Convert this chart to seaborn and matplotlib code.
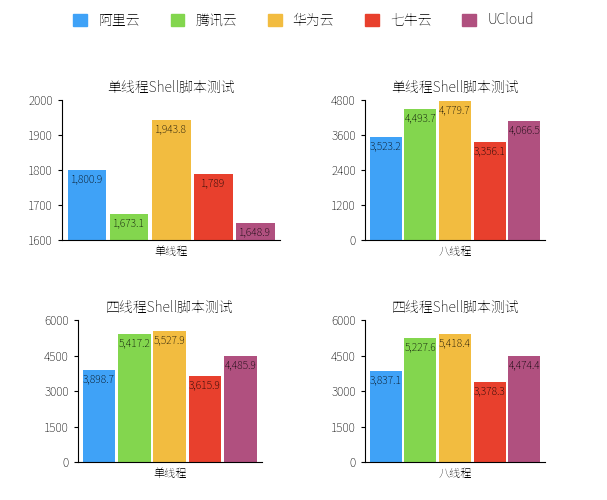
import matplotlib
matplotlib.use('Agg')
import matplotlib.pyplot as plt
from matplotlib import font_manager as fm
import seaborn as sns
import pandas as pd
from matplotlib.patches import Patch

# Register a CJK font file explicitly in case the name lookup fails
cjk_name = None
for path in fm.findSystemFonts():
    if 'NotoSansCJK' in path.replace(' ', '') or 'NotoSansSC' in path or 'wqy' in path.lower():
        try:
            fm.fontManager.addfont(path)
            name = fm.FontProperties(fname=path).get_name()
            if cjk_name is None or 'SC' in name:
                cjk_name = name
        except Exception:
            pass
plt.rcParams['font.family'] = [cjk_name or 'Noto Sans CJK SC', 'DejaVu Sans']

# ─── Data ────────────────────────────────────────────────────────────────────
providers = ['阿里云', '腾讯云', '华为云', '七牛云', 'UCloud']
colors = ['#3FA2F7', '#83D64E', '#F2BC40', '#E8402D', '#B0507F']

single_1 = [1800.9, 1673.1, 1943.8, 1789, 1648.9]
single_8 = [3523.2, 4493.7, 4779.7, 3356.1, 4066.5]
four_1 = [3898.7, 5417.2, 5527.9, 3615.9, 4485.9]
four_8 = [3837.1, 5227.6, 5418.4, 3378.3, 4474.4]

titles = ['单线程Shell脚本测试', '单线程Shell脚本测试', '四线程Shell脚本测试', '四线程Shell脚本测试']
xlabels = ['单线程', '八线程', '单线程', '八线程']
yticks = [[1600, 1700, 1800, 1900, 2000], [0, 1200, 2400, 3600, 4800],
          [0, 1500, 3000, 4500, 6000], [0, 1500, 3000, 4500, 6000]]


def fmt(v):
    s = f"{v:,.1f}"
    return s[:-2] if s.endswith('.0') else s


fig = plt.figure(figsize=(6.07, 5.0), dpi=100)
rects = [[0.102, 0.52, 0.36, 0.28], [0.601, 0.52, 0.297, 0.28],
         [0.128, 0.076, 0.303, 0.284], [0.601, 0.076, 0.297, 0.284]]

for vals, rect, title, xl, yt in zip([single_1, single_8, four_1, four_8], rects, titles, xlabels, yticks):
    ax = fig.add_axes(rect)
    df = pd.DataFrame({'p': providers, 'v': vals})
    sns.barplot(data=df, x='p', y='v', hue='p', palette=colors, width=0.92,
                legend=False, ax=ax, saturation=1)
    ax.set_ylim(yt[0], yt[-1])
    ax.set_yticks(yt)
    ax.tick_params(axis='y', labelsize=8.5, length=3)
    ax.set_xticks([])
    ax.set_xlim(-0.6, 4.6)
    ax.set_xlabel(xl, fontsize=8)
    ax.set_ylabel('')
    ax.set_title(title, fontsize=10)
    for c, v in zip(ax.containers, vals):
        ax.bar_label(c, labels=[fmt(v)], padding=-11, fontsize=7.5)
    sns.despine(ax=ax)

handles = [Patch(color=c) for c in colors]
fig.legend(handles, providers, loc='upper center', ncol=5, frameon=False,
           bbox_to_anchor=(0.5, 1.0), fontsize=10, handlelength=1.0,
           handleheight=1.0, columnspacing=2.2)

fig.savefig('out.png', dpi=100)
